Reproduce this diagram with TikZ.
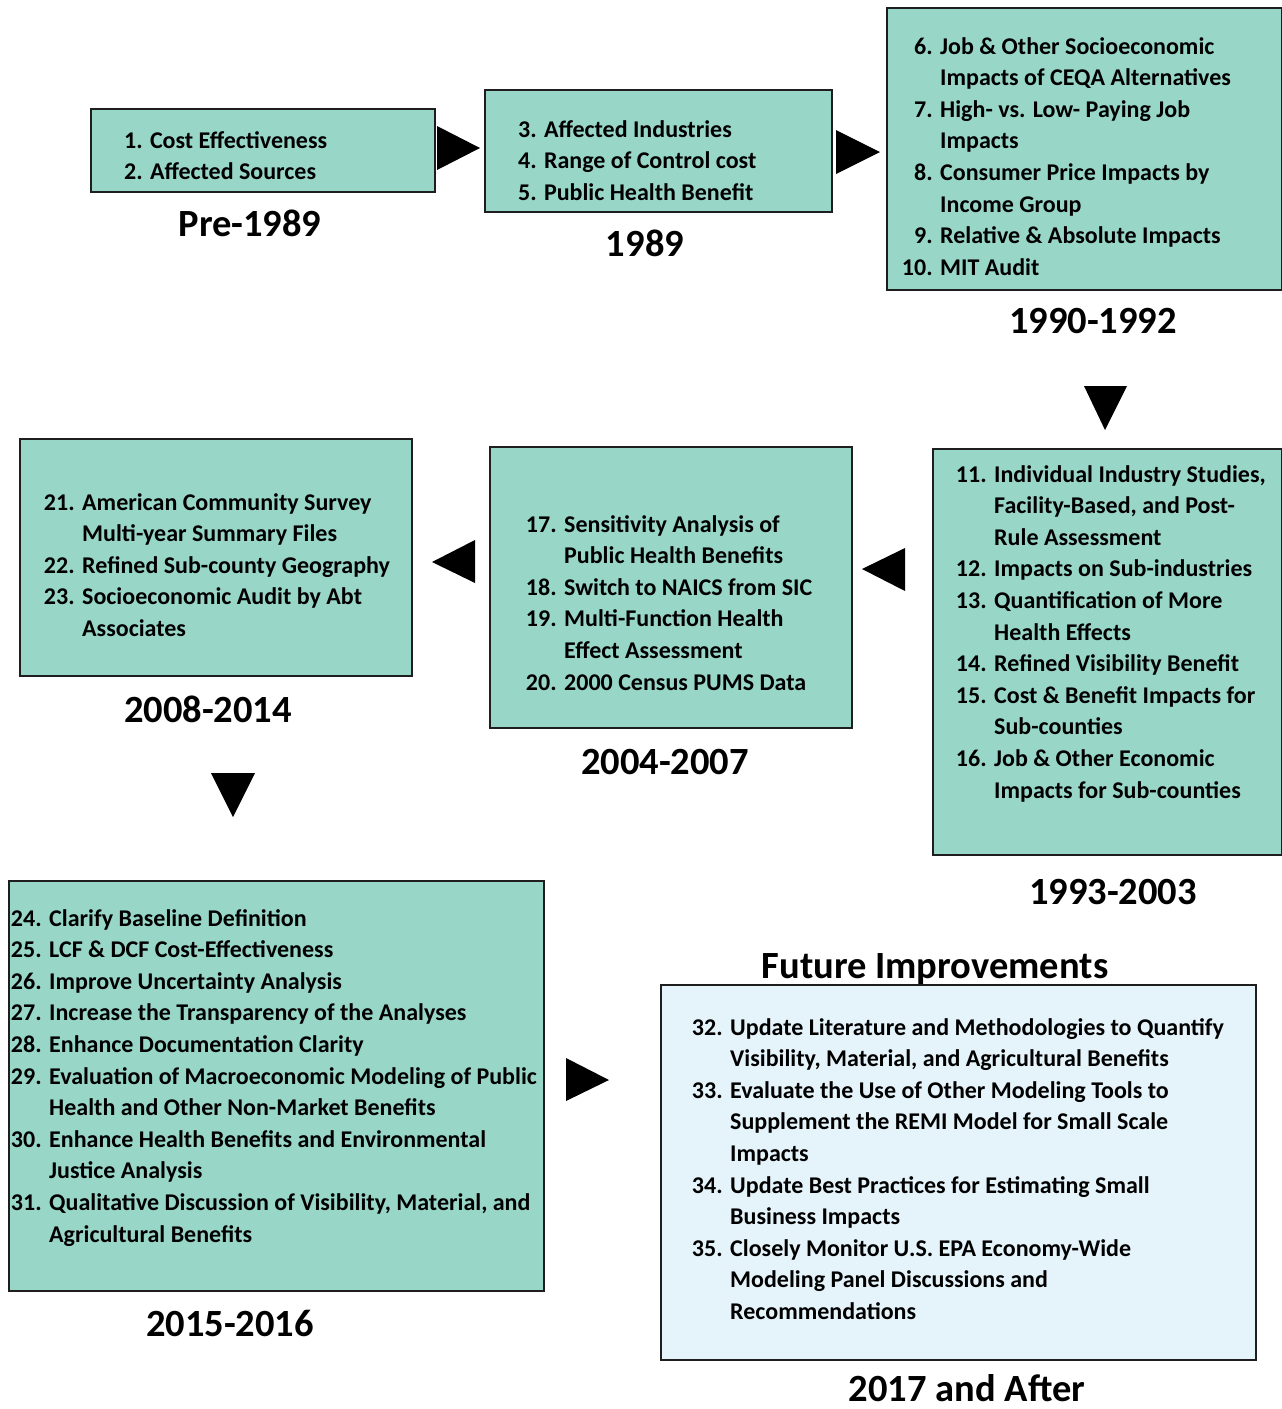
\documentclass[tikz,border=0pt]{standalone}
\usepackage{fontspec}
\setmainfont{Carlito}
\definecolor{boxteal}{RGB}{152,214,200}
\definecolor{boxblue}{RGB}{229,243,250}
\definecolor{edge}{RGB}{30,30,30}
\newcommand\nm[1]{\llap{#1\hspace{7.5pt}}}
\newcommand\lst[1]{\begin{tabular}[t]{@{}l@{}}#1\end{tabular}}
\begin{document}
\begin{tikzpicture}[x=1pt,y=-1pt,
  box/.style={draw=edge, line width=2pt, fill=boxteal, inner sep=0pt, anchor=north west},
  lsttext/.style={inner sep=0pt, anchor=base west, font=\bfseries\fontsize{24}{31.6}\selectfont},
  period/.style={inner sep=0pt, anchor=base, font=\bfseries\fontsize{38.5}{40}\selectfont},
  tri/.style={fill=black}]
\useasboundingbox (0,0) rectangle (1282,1409);
% boxes
\node[box, minimum width=344pt, minimum height=83pt] (b1) at (90,108) {};
\node[box, minimum width=347pt, minimum height=122pt] (b2) at (484,89) {};
\node[box, minimum width=395pt, minimum height=282pt] (b3) at (886,7) {};
\node[box, minimum width=349pt, minimum height=406pt] (b4) at (932,448) {};
\node[box, minimum width=362pt, minimum height=281pt] (b5) at (489,446) {};
\node[box, minimum width=392pt, minimum height=237pt] (b6) at (19,438) {};
\node[box, minimum width=535pt, minimum height=410pt] (b7) at (8,880) {};
\node[box, fill=boxblue, minimum width=595pt, minimum height=375pt] (b8) at (660,984) {};
% texts
\node[lsttext] (t1) at (124,148) {\lst{1. Cost Effectiveness\\2. Affected Sources}};
\node[lsttext] (t2) at (518,137) {\lst{3. Affected Industries\\4. Range of Control cost\\5. Public Health Benefit}};
\node[lsttext] (t3) at (940,54) {\lst{\nm{6.}Job \& Other Socioeconomic\\
Impacts of CEQA Alternatives\\
\nm{7.}High- vs. Low- Paying Job\\
Impacts\\
\nm{8.}Consumer Price Impacts by\\
Income Group\\
\nm{9.}Relative \& Absolute Impacts\\
\nm{10.}MIT Audit}};
\node[lsttext] (t4) at (994,482) {\lst{\nm{11.}Individual Industry Studies,\\
Facility-Based, and Post-\\
Rule Assessment\\
\nm{12.}Impacts on Sub-industries\\
\nm{13.}Quantification of More\\
Health Effects\\
\nm{14.}Refined Visibility Benefit\\
\nm{15.}Cost \& Benefit Impacts for\\
Sub-counties\\
\nm{16.}Job \& Other Economic\\
Impacts for Sub-counties}};
\node[lsttext] (t5) at (564,532) {\lst{\nm{17.}Sensitivity Analysis of\\
Public Health Benefits\\
\nm{18.}Switch to NAICS from SIC\\
\nm{19.}Multi-Function Health\\
Effect Assessment\\
\nm{20.}2000 Census PUMS Data}};
\node[lsttext] (t6) at (82,510) {\lst{\nm{21.}American Community Survey\\
Multi-year Summary Files\\
\nm{22.}Refined Sub-county Geography\\
\nm{23.}Socioeconomic Audit by Abt\\
Associates}};
\node[lsttext] (t7) at (49,926) {\lst{\nm{24.}Clarify Baseline Definition\\
\nm{25.}LCF \& DCF Cost-Effectiveness\\
\nm{26.}Improve Uncertainty Analysis\\
\nm{27.}Increase the Transparency of the Analyses\\
\nm{28.}Enhance Documentation Clarity\\
\nm{29.}Evaluation of Macroeconomic Modeling of Public\\
Health and Other Non-Market Benefits\\
\nm{30.}Enhance Health Benefits and Environmental\\
Justice Analysis\\
\nm{31.}Qualitative Discussion of Visibility, Material, and\\
Agricultural Benefits}};
\node[lsttext] (t8) at (730,1035) {\lst{\nm{32.}Update Literature and Methodologies to Quantify\\
Visibility, Material, and Agricultural Benefits\\
\nm{33.}Evaluate the Use of Other Modeling Tools to\\
Supplement the REMI Model for Small Scale\\
Impacts\\
\nm{34.}Update Best Practices for Estimating Small\\
Business Impacts\\
\nm{35.}Closely Monitor U.S. EPA Economy-Wide\\
Modeling Panel Discussions and\\
Recommendations}};
% period labels
\node[period] (p1) at (250,236) {Pre-1989};
\node[period] (p2) at (645,256) {1989};
\node[period] (p3) at (1093,333) {1990-1992};
\node[period] (p4) at (1113,904) {1993-2003};
\node[period] (p5) at (665,774) {2004-2007};
\node[period] (p6) at (208,722) {2008-2014};
\node[period] (p7) at (230,1336) {2015-2016};
\node[period] (fi) at (935,978) {Future Improvements};
\node[period] (p8) at (967,1401) {2017 and After};
% arrows
\fill[tri] (437,126) -- (480,148) -- (437,170) -- cycle;
\fill[tri] (836,130) -- (880,152) -- (836,174) -- cycle;
\fill[tri] (1084,386) -- (1127,386) -- (1105,430) -- cycle;
\fill[tri] (905,548) -- (862,569) -- (905,591) -- cycle;
\fill[tri] (475,540) -- (432,562) -- (475,583) -- cycle;
\fill[tri] (211,773) -- (255,773) -- (233,817) -- cycle;
\fill[tri] (566,1058) -- (609,1080) -- (566,1101) -- cycle;
\end{tikzpicture}
\end{document}
